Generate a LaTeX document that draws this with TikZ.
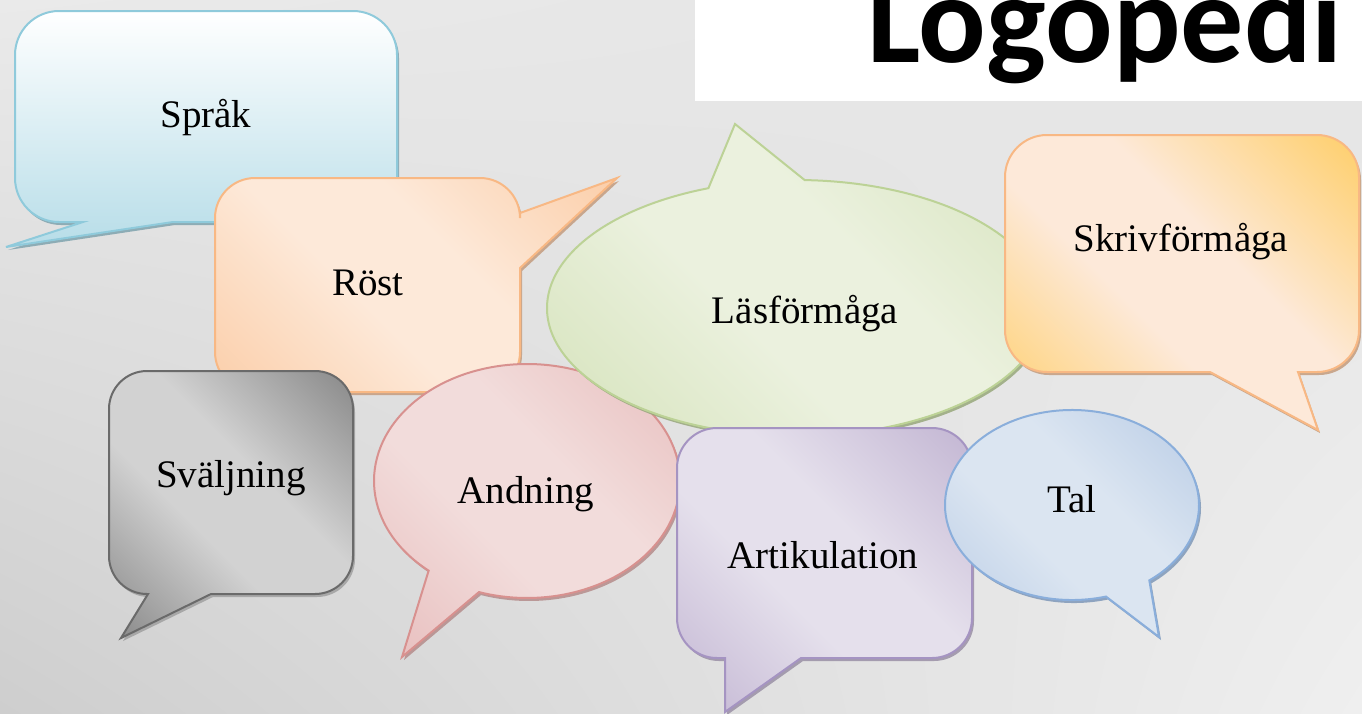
\documentclass[tikz,border=0pt]{standalone}
\usepackage{fontspec}
\usetikzlibrary{shadings}
\setmainfont{Liberation Serif}
\newfontfamily\titlefont{Carlito}
% background
\definecolor{bgUL}{HTML}{EAEAEA}
\definecolor{bgUR}{HTML}{E4E4E4}
\definecolor{bgLL}{HTML}{CECECE}
\definecolor{bgLR}{HTML}{EFEFEF}
% Sprak
\definecolor{sprD}{HTML}{B7DDE8}
\definecolor{sprB}{HTML}{8FCADB}
\definecolor{sprS}{HTML}{7FA3AE}
% Rost
\definecolor{rostL}{HTML}{FDE9D9}
\definecolor{rostD}{HTML}{FAC090}
\definecolor{rostB}{HTML}{F8B884}
\definecolor{rostS}{HTML}{C49C7E}
% Las
\definecolor{lasL}{HTML}{EBF1DE}
\definecolor{lasD}{HTML}{C8DAA6}
\definecolor{lasB}{HTML}{BCD296}
\definecolor{lasS}{HTML}{98A87C}
% Skriv
\definecolor{skrL}{HTML}{FDE9D9}
\definecolor{skrD}{HTML}{FFC02E}
\definecolor{skrB}{HTML}{F8B884}
\definecolor{skrS}{HTML}{C49C7E}
% Svalj
\definecolor{svaL}{HTML}{D2D2D2}
\definecolor{svaD}{HTML}{606060}
\definecolor{svaB}{HTML}{6A6A6A}
\definecolor{svaS}{HTML}{A0A0A0}
% Andning
\definecolor{andL}{HTML}{F2DCDB}
\definecolor{andD}{HTML}{E0A9A9}
\definecolor{andB}{HTML}{D8918F}
\definecolor{andS}{HTML}{B58C8B}
% Artikulation
\definecolor{artL}{HTML}{E5E0EC}
\definecolor{artD}{HTML}{B09FC5}
\definecolor{artB}{HTML}{A594C2}
\definecolor{artS}{HTML}{9A90A6}
% Tal
\definecolor{talL}{HTML}{DBE5F1}
\definecolor{talD}{HTML}{A0BADD}
\definecolor{talB}{HTML}{8AAEDB}
\definecolor{talS}{HTML}{7F98B8}

\pgfdeclarehorizontalshading{shRost}{100bp}{color(0bp)=(rostD); color(42bp)=(rostL); color(58bp)=(rostL); color(100bp)=(rostD)}
\pgfdeclarehorizontalshading{shLas}{100bp}{color(0bp)=(lasD); color(42bp)=(lasL); color(58bp)=(lasL); color(100bp)=(lasD)}
\pgfdeclarehorizontalshading{shSkr}{100bp}{color(0bp)=(skrD); color(42bp)=(skrL); color(58bp)=(skrL); color(100bp)=(skrD)}
\pgfdeclarehorizontalshading{shSva}{100bp}{color(0bp)=(svaD); color(42bp)=(svaL); color(58bp)=(svaL); color(100bp)=(svaD)}
\pgfdeclarehorizontalshading{shAnd}{100bp}{color(0bp)=(andD); color(42bp)=(andL); color(58bp)=(andL); color(100bp)=(andD)}
\pgfdeclarehorizontalshading{shArt}{100bp}{color(0bp)=(artD); color(42bp)=(artL); color(58bp)=(artL); color(100bp)=(artD)}
\pgfdeclarehorizontalshading{shTal}{100bp}{color(0bp)=(talD); color(42bp)=(talL); color(58bp)=(talL); color(100bp)=(talD)}

% rounded rectangle callout, pointer on bottom side
\newcommand\rrb[9]{({#1+#5},#2) -- ({#3-#5},#2) .. controls ({#3-0.448*#5},#2) and (#3,{#2+0.448*#5}) .. (#3,{#2+#5}) -- (#3,{#4-#5}) .. controls (#3,{#4-0.448*#5}) and ({#3-0.448*#5},#4) .. ({#3-#5},#4) -- (#7,#4) -- (#8,#9) -- (#6,#4) -- ({#1+#5},#4) .. controls ({#1+0.448*#5},#4) and (#1,{#4-0.448*#5}) .. (#1,{#4-#5}) -- (#1,{#2+#5}) .. controls (#1,{#2+0.448*#5}) and ({#1+0.448*#5},#2) .. ({#1+#5},#2) -- cycle}
% rounded rectangle callout, pointer on right side
\newcommand\rrr[9]{({#1+#5},#2) -- ({#3-#5},#2) .. controls ({#3-0.448*#5},#2) and (#3,{#2+0.448*#5}) .. (#3,{#2+#5}) -- (#3,#6) -- (#8,#9) -- (#3,#7) -- (#3,{#4-#5}) .. controls (#3,{#4-0.448*#5}) and ({#3-0.448*#5},#4) .. ({#3-#5},#4) -- ({#1+#5},#4) .. controls ({#1+0.448*#5},#4) and (#1,{#4-0.448*#5}) .. (#1,{#4-#5}) -- (#1,{#2+#5}) .. controls (#1,{#2+0.448*#5}) and ({#1+0.448*#5},#2) .. ({#1+#5},#2) -- cycle}
% ellipse callout
\newcommand\ecall[8]{({#1+#3*cos(#5)},{#2+#4*sin(#5)}) arc[start angle=#5, end angle=#6, x radius=#3, y radius=#4] -- (#7,#8) -- cycle}

\tikzset{
  lbl/.style={font=\fontsize{39}{39}\selectfont, inner sep=0pt, anchor=base},
  bord/.style={line width=2pt, draw=#1},
  shad/.style={fill=#1, opacity=0.85, shift={(2,3)}},
  diag/.style={shading=#1, shading angle=45},
}

\begin{document}
\begin{tikzpicture}[x=1pt,y=-1pt]
\useasboundingbox (0,0) rectangle (1362,713);
\clip (0,0) rectangle (1362,713);
\shade[upper left=bgUL, upper right=bgUR, lower left=bgLL, lower right=bgLR] (0,0) rectangle (1362,713);

% title
\fill[white] (695,0) rectangle (1362,101);
\node[inner sep=0pt, anchor=base, font=\titlefont\bfseries\fontsize{126}{126}\selectfont] (title) at (1105,62) {Logopedi};

% Sprak
\fill[shad=sprS] \rrb{15}{11}{397}{222}{44}{83}{173}{6}{247};
\shadedraw[top color=white, bottom color=sprD, bord=sprB] \rrb{15}{11}{397}{222}{44}{83}{173}{6}{247};
\node[lbl] (sprak) at (206,127) {Språk};

% Rost
\fill[shad=rostS] \rrr{215}{178}{520}{392}{40}{213}{268}{617}{178};
\shadedraw[diag=shRost, bord=rostB] \rrr{215}{178}{520}{392}{40}{213}{268}{617}{178};
\node[lbl] (rost) at (368,295) {Röst};

% Svaljning
\fill[shad=svaS] \rrb{109}{371}{353}{594}{38}{148}{211}{121}{638};
\shadedraw[diag=shSva, bord=svaB] \rrb{109}{371}{353}{594}{38}{148}{211}{121}{638};
\node[lbl] (svalj) at (231,487) {Sväljning};

% Andning
\fill[shad=andS] \ecall{527}{481}{153}{117}{130}{468.3}{402}{657};
\shadedraw[diag=shAnd, bord=andB] \ecall{527}{481}{153}{117}{130}{468.3}{402}{657};
\node[lbl] (andn) at (526,503) {Andning};

% Lasformaga
\fill[shad=lasS] \ecall{796}{308}{249}{128}{-88}{249.4}{735}{124};
\shadedraw[diag=shLas, bord=lasB] \ecall{796}{308}{249}{128}{-88}{249.4}{735}{124};
\node[lbl] (las) at (805,323) {Läsförmåga};

% Skrivformaga
\fill[shad=skrS] \rrb{1005}{135}{1359}{372}{42}{1210}{1298}{1318}{430};
\shadedraw[diag=shSkr, bord=skrB] \rrb{1005}{135}{1359}{372}{42}{1210}{1298}{1318}{430};
\node[lbl] (skriv) at (1181,251) {Skrivförmåga};

% Artikulation
\fill[shad=artS] \rrb{677}{428}{972}{658}{40}{725}{801}{725}{712};
\shadedraw[diag=shArt, bord=artB] \rrb{677}{428}{972}{658}{40}{725}{801}{725}{712};
\node[lbl] (artik) at (823,568) {Artikulation};

% Tal
\fill[shad=talS] \ecall{1072}{505}{127}{95}{74.5}{412.5}{1159}{637};
\shadedraw[diag=shTal, bord=talB] \ecall{1072}{505}{127}{95}{74.5}{412.5}{1159}{637};
\node[lbl] (tal) at (1072,512) {Tal};
\end{tikzpicture}
\end{document}
